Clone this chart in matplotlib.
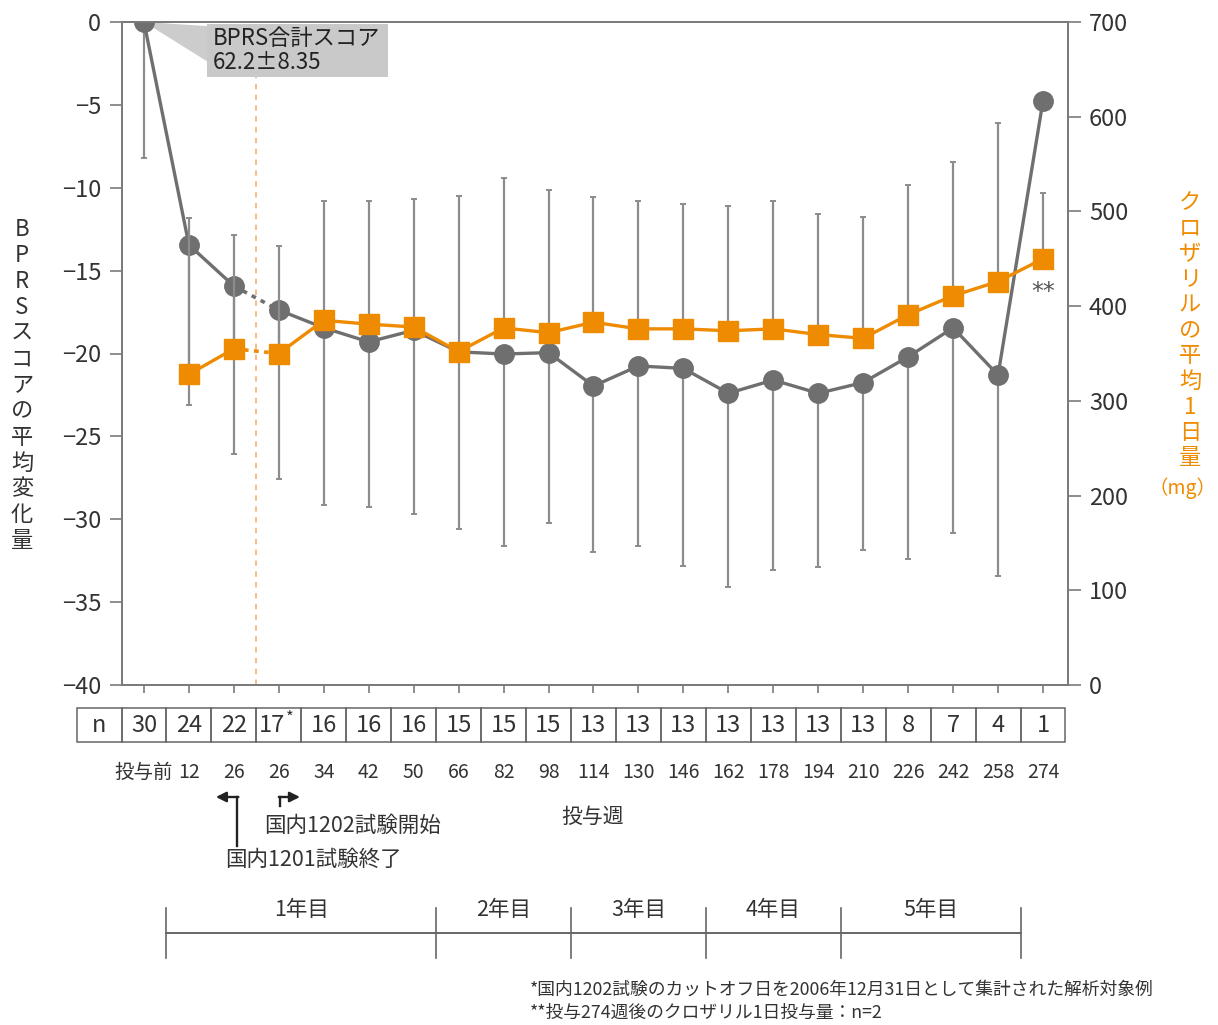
import matplotlib
matplotlib.use('Agg')
import matplotlib.pyplot as plt
import matplotlib.transforms as mtrans
from matplotlib.patches import Rectangle, Polygon
from matplotlib.lines import Line2D

plt.rcParams['font.family'] = ['Noto Sans CJK JP', 'DejaVu Sans']
plt.rcParams['axes.unicode_minus'] = True

# ---------------- data ----------------
weeks = ['投与前', '12', '26', '26', '34', '42', '50', '66', '82', '98', '114',
         '130', '146', '162', '178', '194', '210', '226', '242', '258', '274']
n_counts = ['30', '24', '22', '17*', '16', '16', '16', '15', '15', '15', '13',
            '13', '13', '13', '13', '13', '13', '8', '7', '4', '1']
bprs_mean = [0, -13.45, -15.93, -17.38, -18.45, -19.3, -18.6, -19.9, -20.03, -19.95,
             -21.96, -20.75, -20.9, -22.4, -21.6, -22.4, -21.75, -20.2, -18.45, -21.3, -4.75]
bprs_lower = [-8.2, -23.1, -26.06, -27.57, -29.14, -29.26, -29.68, -30.6, -31.6, -30.2,
              -31.98, -31.6, -32.8, -34.1, -33.06, -32.9, -31.85, -32.4, -30.8, -33.4, None]
dose_mean = [None, 328, 355, 350, 385, 381, 378, 352, 377, 372, 383, 376, 376, 374,
             376, 370, 366, 391, 411, 426, 450]
dose_upper = [None, 493, 475, 463.5, 511, 511, 513, 516, 535, 522.6, 515, 511, 508,
              506, 511, 497, 494, 528, 552, 593, 519]
years = ['1年目', '2年目', '3年目', '4年目', '5年目']
year_bounds = [0.5, 6.5, 9.5, 12.5, 15.5, 19.5]

GRAY = '#6f6f6f'
EGRAY = '#8c8c8c'
ORANGE = '#EF8B00'
TXT = '#333333'

fig = plt.figure(figsize=(12.18, 10.25), dpi=100)
W, H = 1218, 1025
def fy(y):
    return 1 - y / H
def fx(x):
    return x / W

ax = fig.add_axes([fx(122), fy(685), fx(1068) - fx(122), fy(22) - fy(685)])
ax2 = ax.twinx()

n = len(weeks)
xs = list(range(n))

# ---- BPRS (left axis) ----
bx = [i for i in xs if bprs_lower[i] is not None]
bm = [bprs_mean[i] for i in bx]
bsd = [bprs_mean[i] - bprs_lower[i] for i in bx]
ax.errorbar(bx, bm, yerr=[bsd, [0] * len(bx)], fmt='none', ecolor=EGRAY,
            elinewidth=1.6, capsize=2, capthick=1.4, zorder=1)
ax.plot(xs[0:3], bprs_mean[0:3], color=GRAY, lw=2.4, zorder=2)
ax.plot(xs[2:4], bprs_mean[2:4], color=GRAY, lw=2.6, ls=(0, (1.3, 1.5)), zorder=2)
ax.plot(xs[3:], bprs_mean[3:], color=GRAY, lw=2.4, zorder=2)
ax.plot(xs, bprs_mean, ls='none', marker='o', ms=14, color=GRAY, mec=GRAY, zorder=3)

ax.set_ylim(-40, 0)
ax.set_xlim(-0.489, 20.556)
ax.set_yticks(range(-40, 1, 5))
ax.set_yticklabels([('−' + str(abs(v))) if v < 0 else str(v) for v in range(-40, 1, 5)])
ax.set_xticks(xs)
ax.set_xticklabels([])

# ---- dose (right axis) ----
dx = [i for i in xs if dose_mean[i] is not None]
dm = [dose_mean[i] for i in dx]
dsd = [dose_upper[i] - dose_mean[i] for i in dx]
ax2.errorbar(dx, dm, yerr=[[0] * len(dx), dsd], fmt='none', ecolor=EGRAY,
             elinewidth=1.6, capsize=2, capthick=1.4, zorder=1)
ax2.plot(xs[1:3], dose_mean[1:3], color=ORANGE, lw=2.4, zorder=2)
ax2.plot(xs[2:4], dose_mean[2:4], color=ORANGE, lw=2.6, ls=(0, (1.3, 1.5)), zorder=2)
ax2.plot(xs[3:], dose_mean[3:], color=ORANGE, lw=2.4, zorder=2)
ax2.plot(dx, dm, ls='none', marker='s', ms=14, color=ORANGE, mec=ORANGE, zorder=3)
ax2.set_ylim(0, 700)
ax2.set_yticks(range(0, 701, 100))
ax2.text(xs[-1], dose_mean[-1] - 22, '**', ha='center', va='top', fontsize=17,
         color='#555555', family=['DejaVu Sans'])

for a in (ax, ax2):
    for s in a.spines.values():
        s.set_color('#7a7a7a')
        s.set_linewidth(1.3)
ax.tick_params(axis='y', direction='out', length=9, width=1.2, color='#7a7a7a',
               labelsize=17, labelcolor=TXT, pad=6)
ax.tick_params(axis='x', direction='out', length=6, width=1.2, color='#7a7a7a')
ax2.tick_params(axis='y', direction='out', length=9, width=1.2, color='#7a7a7a',
                labelsize=17, labelcolor=TXT, pad=6)

# vertical dashed line between the two 26-week points
ax.plot([2.5, 2.5], [-40, -2], color='#F6B97E', lw=1.3, ls=(0, (3, 3)), zorder=0.5)

# callout box
wedge = Polygon([(0, 0), (1.42, -0.25), (1.42, -2.4)], closed=True,
                facecolor='#cccccc', edgecolor='none', zorder=1.5, clip_on=False)
ax.add_patch(wedge)
box = Rectangle((1.40, -3.32), 5.43 - 1.40, 3.2, facecolor='#c9c9c9', edgecolor='none',
                zorder=4, clip_on=False)
ax.add_patch(box)
ax.text(1.53, -1.0, 'BPRS合計スコア', fontsize=16, color='#222222', va='center', ha='left', zorder=5)
ax.text(1.53, -2.45, '62.2±8.35', fontsize=16, color='#222222', va='center', ha='left', zorder=5)

# ---- n table ----
tr = mtrans.blended_transform_factory(ax.transData, fig.transFigure)
ty0, ty1 = fy(742), fy(708)
fig.patches.append(Rectangle((-1.49, ty0), 1.0, ty1 - ty0, transform=tr, fill=False,
                             edgecolor='#666666', lw=1.1))
fig.text(-1.0, fy(725), 'n', transform=tr, ha='center', va='center', fontsize=17, color=TXT)
for i in xs:
    fig.patches.append(Rectangle((i - 0.5, ty0), 1.0, ty1 - ty0, transform=tr, fill=False,
                                 edgecolor='#666666', lw=1.1))
    lab = n_counts[i]
    if lab.endswith('*'):
        fig.text(i + 0.14, fy(725), lab[:-1], transform=tr, ha='right', va='center',
                 fontsize=17, color=TXT)
        fig.text(i + 0.15, fy(718), '*', transform=tr, ha='left', va='center',
                 fontsize=12, color=TXT)
    else:
        fig.text(i, fy(725), lab, transform=tr, ha='center', va='center',
                 fontsize=17, color=TXT)

# week labels
for i in xs:
    fig.text(i, fy(772), weeks[i], transform=tr, ha='center', va='center',
             fontsize=14, color=TXT)
fig.text(9.99, fy(817), '投与週', transform=tr, ha='center', va='center', fontsize=15, color=TXT)

# arrows
fig.lines.append(Line2D([2.07, 2.07], [fy(846), fy(797)], transform=tr, color='#222222', lw=1.7))
fig.lines.append(Line2D([3.03, 3.03], [fy(806), fy(797)], transform=tr, color='#222222', lw=1.7))
ax.annotate('', xy=(1.60, fy(797)), xytext=(2.10, fy(797)), xycoords=tr, textcoords=tr,
            arrowprops=dict(arrowstyle='-|>,head_length=0.6,head_width=0.3', color='#222222',
                            lw=1.7, shrinkA=0, shrinkB=0), annotation_clip=False)
ax.annotate('', xy=(3.47, fy(797)), xytext=(3.00, fy(797)), xycoords=tr, textcoords=tr,
            arrowprops=dict(arrowstyle='-|>,head_length=0.6,head_width=0.3', color='#222222',
                            lw=1.7, shrinkA=0, shrinkB=0), annotation_clip=False)
fig.text(3.76, fy(860), '国内1201試験終了', transform=tr, ha='center', va='center',
         fontsize=15.5, color=TXT)
fig.text(4.63, fy(826), '国内1202試験開始', transform=tr, ha='center', va='center',
         fontsize=15.5, color=TXT)

# year bar
fig.lines.append(Line2D([year_bounds[0], year_bounds[-1]], [fy(933), fy(933)], transform=tr,
                        color='#666666', lw=1.4))
for b in year_bounds:
    fig.lines.append(Line2D([b, b], [fy(958), fy(908)], transform=tr, color='#666666', lw=1.2))
for k, lab in enumerate(years):
    mid = (year_bounds[k] + year_bounds[k + 1]) / 2
    fig.text(mid, fy(910), lab, transform=tr, ha='center', va='center', fontsize=15.5, color=TXT)

# footnotes
fig.text(fx(530), fy(990), '*国内1202試験のカットオフ日を2006年12月31日として集計された解析対象例',
         ha='left', va='center', fontsize=12.8, color=TXT)
fig.text(fx(530), fy(1013), '**投与274週後のクロザリル1日投与量：n=2',
         ha='left', va='center', fontsize=12.8, color=TXT)

# vertical axis labels (stacked characters)
left_label = 'BPRSスコアの平均変化量'
for k, ch in enumerate(left_label):
    fig.text(fx(22), fy(230 + k * 25.9), ch, ha='center', va='center', fontsize=16, color=TXT)
right_label = 'クロザリルの平均1日量'
for k, ch in enumerate(right_label):
    fig.text(fx(1190), fy(203 + k * 25.5), ch, ha='center', va='center', fontsize=16, color=ORANGE)
fig.text(fx(1183), fy(488), '（mg）', ha='center', va='center', fontsize=14, color=ORANGE)

fig.savefig('out.png', dpi=100)
